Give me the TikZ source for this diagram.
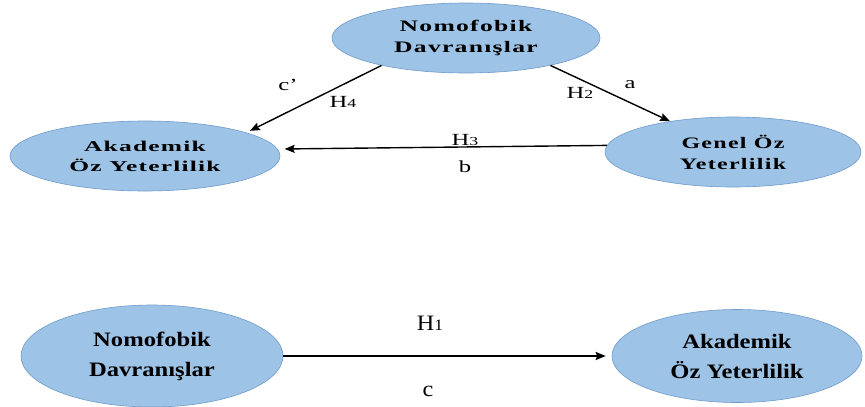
\documentclass[tikz,border=0pt]{standalone}
\usepackage{fontspec}
\usepackage{graphicx}
\setmainfont{Liberation Serif}
\newfontfamily\wideserif[FakeStretch=1.7,LetterSpace=8]{Liberation Serif Bold}
\newfontfamily\topserif[FakeStretch=1.6,LetterSpace=8]{Liberation Serif Bold}
\newfontfamily\genelserif[FakeStretch=1.5,LetterSpace=8]{Liberation Serif Bold}
\newfontfamily\bigserif[FakeStretch=1.2]{Liberation Serif Bold}
\newfontfamily\labelserif[FakeStretch=1.45]{Liberation Serif}
\newfontfamily\biglabelserif[FakeStretch=1.1]{Liberation Serif}
\usetikzlibrary{arrows.meta,shapes.geometric}
\definecolor{EllFill}{HTML}{9DC3E6}
\definecolor{EllLine}{HTML}{6F9BCB}
\newcommand{\hyp}[1]{H\scalebox{0.72}{#1}}

\begin{document}
\begin{tikzpicture}[x=1pt, y=-1pt,
  var/.style={ellipse, draw=EllLine, fill=EllFill, line width=0.6pt, inner sep=0pt, align=center},
  link/.style={-{Stealth[length=10pt,width=8pt,inset=1.5pt]}, line width=1.4pt},
  lbl/.style={font=\labelserif\fontsize{17}{17}\selectfont, inner sep=0pt},
  biglbl/.style={font=\biglabelserif\fontsize{22}{22}\selectfont, inner sep=0pt}]
\useasboundingbox (0,0) rectangle (865,407);
% mediation model
\node[var, minimum width=268pt, minimum height=70pt, font=\topserif\fontsize{16}{21}\selectfont] (nomo) at (466,38) {Nomofobik\\Davranışlar};
\node[var, minimum width=270pt, minimum height=70pt, font=\wideserif\fontsize{15}{20}\selectfont] (akad) at (145,156) {Akademik\\Öz Yeterlilik};
\node[var, minimum width=256pt, minimum height=70pt, font=\genelserif\fontsize{16}{21}\selectfont] (genel) at (733,152) {Genel Öz\\Yeterlilik};
\draw[link, shorten >=4pt] (nomo.198) -- (akad.13);
\draw[link] (nomo.342) -- (genel.154);
\draw[link, shorten >=7pt] (genel.177) -- (akad.3);
\node[lbl] (cpr) at (288,85) {c’};
\node[lbl] (hdort) at (343,102) {\hyp{4}};
\node[lbl] (hiki) at (580,93) {\hyp{2}};
\node[lbl] (la) at (630,85) {a};
\node[lbl] (huc) at (465,140) {\hyp{3}};
\node[lbl] (lb) at (465,167) {b};
% total effect
\node[var, minimum width=262pt, minimum height=102pt, font=\bigserif\fontsize{20.5}{30}\selectfont] (nomoB) at (152,356) {Nomofobik\\Davranışlar};
\node[var, minimum width=250pt, minimum height=93pt, font=\bigserif\fontsize{20.5}{30}\selectfont] (akadB) at (737,356) {Akademik\\Öz Yeterlilik};
\draw[link, line width=2pt, shorten >=6pt] (nomoB.east) -- (akadB.west);
\node[biglbl] (hbir) at (430,323) {\hyp{1}};
\node[biglbl] (lc) at (428,391) {c};
\end{tikzpicture}
\end{document}
